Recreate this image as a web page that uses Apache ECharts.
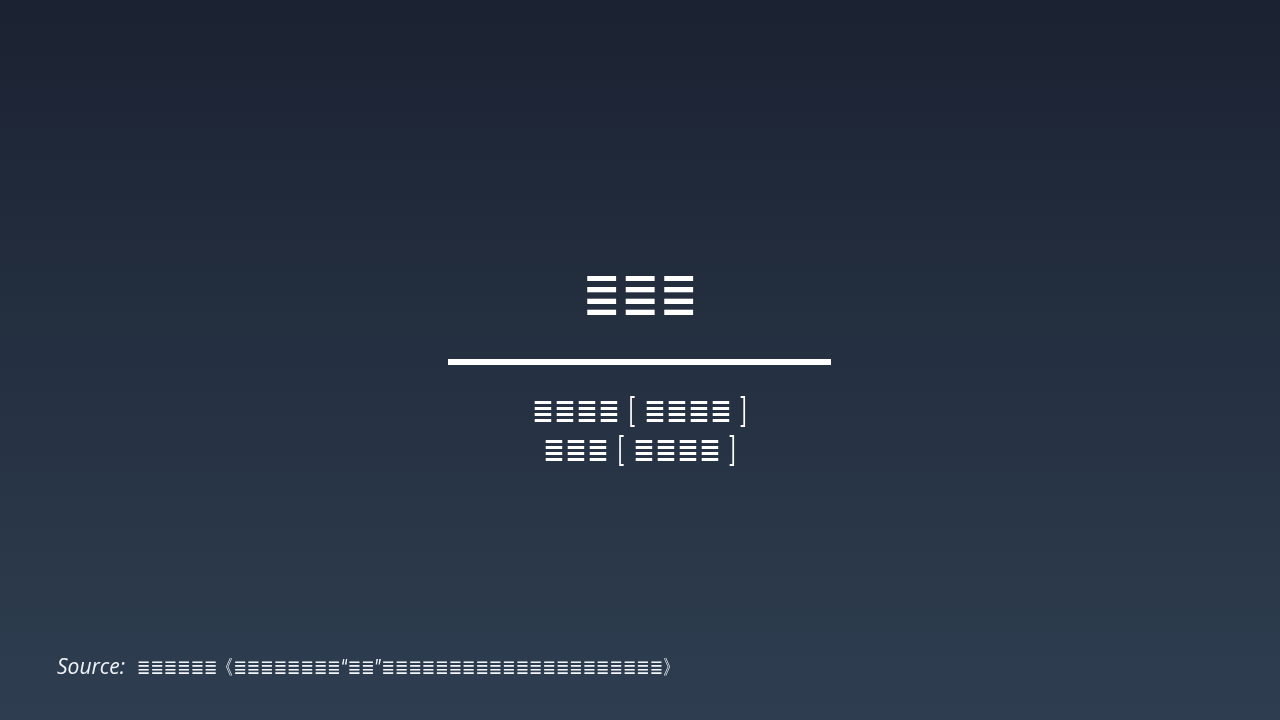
<!DOCTYPE html>
<html><head><meta charset="utf-8">
<script src="https://cdn.jsdelivr.net/npm/echarts@6/dist/echarts.min.js"></script>
<style>html,body{margin:0;padding:0;width:1280px;height:720px;overflow:hidden}#c{width:1280px;height:720px}</style>
</head><body><div id="c"></div>
<script>
const titleText = '≣≣≣';
const subtitleLines = ['≣≣≣≣ [ ≣≣≣≣ ]', '≣≣≣ [ ≣≣≣≣ ]'];
const sourceLabel = 'Source:';
const sourceText = '≣≣≣≣≣≣《≣≣≣≣≣≣≣≣“≣≣”≣≣≣≣≣≣≣≣≣≣≣≣≣≣≣≣≣≣≣≣≣》';

const glyphFont = 'Inter, "DejaVu Sans"';
const chart = echarts.init(document.getElementById('c'));
chart.setOption({
  backgroundColor: {type:'linear',x:0,y:0,x2:0,y2:1,colorStops:[{offset:0,color:'#1b2232'},{offset:1,color:'#2e3e50'}]},
  graphic: [
    {type:'text', x:640, y:296, scaleY:1.35, style:{text:titleText, fill:'#ffffff', align:'center', verticalAlign:'middle', font:'46px ' + glyphFont}},
    {type:'rect', shape:{x:448, y:359, width:383, height:6}, style:{fill:'#ffffff'}},
    {type:'text', x:640, y:412, scaleY:1.3, style:{text:subtitleLines[0], fill:'#ffffff', align:'center', verticalAlign:'middle', font:'300 26px ' + glyphFont}},
    {type:'text', x:640, y:451, scaleY:1.3, style:{text:subtitleLines[1], fill:'#ffffff', align:'center', verticalAlign:'middle', font:'300 26px ' + glyphFont}},
    {type:'text', x:57, y:668, style:{text:sourceLabel, fill:'#f0f3f7', align:'left', verticalAlign:'middle', font:'italic 21px "Open Sans"'}},
    {type:'text', x:137, y:668, scaleY:1.25, style:{text:sourceText, fill:'#f0f3f7', align:'left', verticalAlign:'middle', font:'16px ' + glyphFont}}
  ]
});
</script></body></html>
